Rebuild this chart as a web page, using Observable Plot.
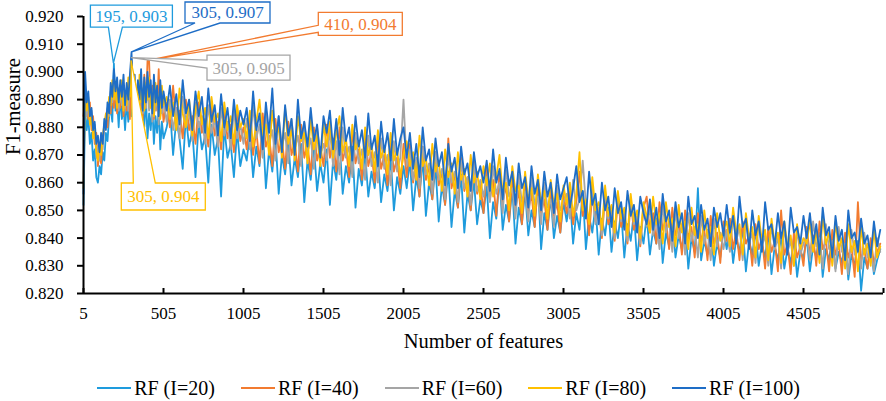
<!DOCTYPE html>
<html><head><meta charset="utf-8">
<script src="https://cdn.jsdelivr.net/npm/d3@7"></script>
<script src="https://cdn.jsdelivr.net/npm/@observablehq/plot@0.6"></script>
<style>
html,body{margin:0;padding:0;background:#fff;}
body{width:886px;height:401px;overflow:hidden;font-family:"Liberation Serif","Times New Roman",serif;}
svg{display:block;}
#legend{display:flex;justify-content:center;align-items:center;gap:26px;margin-top:18px;height:20px;padding-left:11px;font-size:20px;line-height:20px;color:#000;}
.item{display:flex;align-items:center;gap:3px;white-space:nowrap;}
.swatch{width:34px;height:2px;}
</style></head><body>
<div id="chart"></div><div id="legend"></div>
<script>
// Categories (number of features): every 10 up to 505, then every 20
const features = [...d3.range(5, 506, 10), ...d3.range(525, 5000, 20)];
const xTicks = [5, 505, 1005, 1505, 2005, 2505, 3005, 3505, 4005, 4505, 5005];
const yTicks = [0.82, 0.83, 0.84, 0.85, 0.86, 0.87, 0.88, 0.89, 0.90, 0.91, 0.92];
const seriesNames = ["RF (I=20)", "RF (I=40)", "RF (I=60)", "RF (I=80)", "RF (I=100)"];
const seriesColors = ["#1E9BDD", "#F27B30", "#A5A5A5", "#FFC000", "#1E6DC6"];

const rf20 = [
.852,.886,.879,.884,.874,.878,.868,.872,.862,.860,
.866,.863,.871,.868,.878,.875,.884,.887,.882,.903,
.886,.890,.880,.892,.883,.888,.879,.890,.882,.887,
.884,.891,.878,.886,.881,.889,.877,.886,.880,.891,
.876,.885,.879,.888,.874,.884,.878,.887,.872,.882,
.876,
.880,.887,.870,.883,.876,.865,.884,.873,.879,.862,.882,.872,.877,.860,.881,.870,.876,.855,.880,.869,.874,.862,.879,.866,.872,
.868,.878,.862,.873,.866,.880,.858,.872,.864,.876,.856,.870,.863,.875,.859,.869,.862,.874,.853,.868,.861,.873,.857,.867,.860,
.872,.852,.868,.861,.875,.856,.866,.860,.873,.851,.865,.859,.871,.855,.864,.858,.870,.853,.863,.857,.869,.850,.862,.856,.866,
.858,.868,.850,.862,.855,.869,.848,.860,.854,.866,.846,.859,.852,.864,.844,.857,.851,.863,.842,.856,.850,.861,.845,.854,.849,
.859,.840,.853,.847,.862,.843,.852,.846,.858,.838,.851,.845,.857,.841,.850,.844,.860,.836,.849,.843,.855,.840,.848,.842,.853,
.846,.855,.838,.849,.843,.857,.836,.848,.842,.852,.834,.847,.841,.851,.835,.846,.840,.850,.833,.845,.839,.849,.832,.844,.838,
.848,.834,.843,.838,.850,.831,.842,.837,.847,.833,.841,.836,.846,.829,.840,.835,.858,.832,.839,.834,.845,.830,.838,.833,.843,
.836,.845,.831,.840,.835,.844,.828,.839,.834,.843,.830,.838,.833,.842,.827,.837,.832,.841,.829,.836,.831,.840,.826,.835,.833,
.840,.828,.837,.833,.842,.826,.836,.832,.841,.829,.835,.831,.840,.825,.834,.830,.839,.821,.833,.829,.838,.827,.832,.836
];
const rf40 = [
.884,.891,.887,.883,.889,.879,.884,.874,.878,.866,
.871,.867,.876,.879,.883,.880,.889,.885,.893,.887,
.894,.885,.892,.887,.895,.884,.891,.886,.894,.883,
.897,.889,.893,.882,.896,.886,.891,.883,.899,.887,
.904,.904,.888,.895,.883,.893,.886,.901,.884,.891,
.882,
.889,.880,.895,.881,.886,.876,.890,.879,.884,.874,.889,.878,.883,.873,.888,.877,.882,.872,.887,.876,.881,.871,.886,.875,.880,
.872,.884,.870,.879,.867,.885,.873,.877,.866,.883,.871,.876,.865,.882,.870,.875,.864,.881,.869,.874,.863,.880,.868,.873,.866,
.881,.869,.876,.864,.880,.868,.873,.862,.879,.867,.872,.861,.878,.866,.871,.860,.877,.865,.870,.859,.876,.864,.869,.858,.874,
.862,.874,.860,.868,.855,.873,.861,.866,.854,.871,.859,.864,.852,.876,.858,.863,.851,.869,.857,.862,.850,.868,.856,.860,.849,
.865,.854,.861,.848,.864,.853,.859,.846,.862,.851,.857,.845,.861,.850,.856,.844,.860,.849,.854,.843,.858,.848,.853,.842,.856,
.849,.857,.845,.853,.864,.848,.852,.841,.856,.846,.850,.840,.855,.845,.849,.839,.854,.844,.848,.838,.853,.843,.847,.837,.851,
.855,.842,.849,.838,.853,.843,.847,.836,.851,.841,.845,.834,.850,.840,.844,.833,.849,.839,.843,.832,.848,.838,.842,.831,.846,
.839,.847,.836,.843,.832,.846,.838,.841,.830,.845,.836,.840,.829,.844,.835,.839,.828,.850,.834,.838,.827,.842,.833,.837,.830,
.844,.834,.841,.830,.846,.836,.839,.828,.843,.834,.838,.827,.842,.833,.837,.826,.853,.832,.836,.829,.840,.831,.835,.838
];
const rf60 = [
.880,.895,.884,.891,.882,.886,.877,.881,.869,.873,
.868,.876,.872,.880,.884,.887,.884,.893,.889,.896,
.890,.896,.886,.893,.888,.895,.887,.894,.886,.896,
.905,.888,.895,.884,.894,.888,.897,.885,.893,.887,
.895,.886,.894,.882,.892,.886,.893,.881,.891,.885,
.890,
.882,.890,.879,.887,.876,.891,.881,.886,.875,.889,.880,.884,.874,.888,.878,.883,.873,.887,.877,.882,.872,.886,.876,.881,.874,
.883,.872,.888,.876,.881,.869,.885,.874,.879,.868,.884,.873,.878,.867,.883,.872,.877,.866,.882,.871,.876,.865,.880,.870,.874,
.868,.879,.866,.875,.863,.880,.869,.873,.862,.878,.867,.872,.861,.877,.866,.871,.860,.876,.865,.870,.859,.875,.864,.869,.890,
.866,.872,.861,.869,.858,.873,.863,.867,.856,.871,.861,.865,.854,.870,.860,.864,.853,.868,.858,.862,.852,.867,.857,.861,.855,
.862,.853,.866,.856,.860,.849,.865,.855,.858,.847,.863,.853,.857,.846,.862,.852,.855,.845,.860,.851,.854,.844,.859,.850,.853,
.856,.847,.861,.850,.854,.868,.852,.846,.858,.845,.851,.841,.857,.847,.850,.840,.856,.846,.849,.839,.854,.845,.848,.838,.852,
.844,.851,.841,.847,.836,.852,.842,.846,.835,.850,.840,.845,.834,.849,.839,.844,.833,.848,.838,.843,.832,.847,.837,.842,.836,
.843,.835,.848,.839,.844,.832,.847,.838,.842,.831,.846,.837,.841,.830,.845,.836,.840,.829,.844,.835,.839,.830,.843,.834,.838,
.841,.832,.846,.837,.840,.829,.845,.836,.839,.828,.844,.835,.838,.827,.843,.834,.837,.829,.842,.833,.836,.828,.840,.835
];
const rf80 = [
.858,.893,.886,.890,.881,.884,.876,.880,.871,.868,
.874,.870,.877,.881,.885,.883,.891,.888,.897,.890,
.895,.887,.894,.890,.897,.886,.893,.888,.898,.891,
.904,.889,.896,.891,.885,.899,.889,.894,.886,.896,
.890,.898,.887,.893,.884,.896,.888,.892,.883,.895,
.888,
.891,.883,.889,.879,.894,.885,.880,.890,.877,.886,.893,.881,.887,.876,.891,.882,.885,.875,.889,.879,.884,.874,.888,.880,.883,
.876,.886,.873,.882,.890,.877,.881,.870,.886,.876,.880,.869,.887,.874,.879,.868,.884,.875,.878,.867,.883,.872,.877,.866,.881,
.873,.882,.869,.878,.884,.871,.876,.866,.881,.872,.875,.865,.880,.870,.874,.864,.879,.869,.873,.863,.878,.868,.872,.862,.870,
.875,.866,.871,.861,.877,.866,.869,.859,.874,.864,.868,.857,.872,.862,.867,.856,.871,.861,.865,.855,.870,.860,.864,.854,.866,
.859,.867,.855,.862,.870,.856,.860,.850,.866,.857,.859,.849,.864,.854,.858,.848,.863,.853,.857,.847,.861,.852,.856,.846,.859,
.852,.860,.848,.856,.871,.850,.854,.845,.862,.850,.853,.843,.859,.848,.852,.842,.857,.847,.851,.841,.856,.846,.850,.840,.853,
.848,.842,.855,.845,.849,.838,.853,.844,.847,.837,.852,.842,.846,.836,.851,.841,.845,.835,.850,.840,.844,.834,.849,.839,.843,
.846,.837,.851,.842,.845,.834,.849,.840,.844,.833,.848,.839,.843,.832,.847,.838,.842,.831,.846,.837,.841,.830,.845,.836,.840,
.838,.846,.835,.843,.831,.848,.838,.842,.830,.846,.836,.840,.829,.845,.835,.839,.828,.844,.834,.838,.830,.843,.833,.837
];
const rf100 = [
.856,.900,.889,.893,.884,.887,.879,.882,.874,.877,
.871,.878,.874,.883,.879,.889,.885,.896,.891,.901,
.893,.898,.889,.897,.891,.899,.888,.896,.890,.899,
.907,.892,.899,.887,.897,.890,.901,.886,.898,.889,
.900,.891,.897,.885,.899,.889,.895,.884,.897,.887,
.893,
.886,.895,.884,.892,.881,.897,.885,.890,.879,.893,.884,.891,.878,.894,.882,.888,.877,.892,.880,.887,.876,.890,.879,.886,.881,
.887,.875,.893,.879,.885,.872,.889,.878,.894,.874,.884,.871,.888,.877,.883,.870,.890,.876,.882,.873,.887,.875,.881,.869,.884,
.878,.886,.872,.883,.870,.887,.875,.880,.868,.884,.873,.879,.869,.885,.872,.877,.866,.882,.871,.878,.868,.883,.870,.876,.880,
.869,.878,.865,.874,.862,.880,.868,.872,.861,.876,.866,.871,.859,.874,.864,.869,.858,.873,.863,.867,.857,.871,.862,.866,.860,
.868,.857,.872,.860,.865,.854,.869,.859,.864,.852,.867,.858,.862,.851,.866,.856,.861,.850,.864,.855,.860,.849,.863,.854,.858,
.862,.851,.858,.866,.853,.857,.847,.864,.852,.856,.845,.860,.850,.855,.844,.858,.849,.853,.843,.857,.848,.852,.842,.855,.849,
.845,.854,.843,.851,.840,.856,.846,.850,.839,.853,.844,.849,.838,.855,.845,.848,.840,.852,.843,.847,.837,.851,.844,.849,.841,
.852,.842,.848,.838,.855,.844,.847,.836,.850,.841,.846,.835,.853,.843,.845,.837,.849,.840,.846,.834,.851,.842,.844,.838,.848,
.840,.849,.838,.845,.834,.851,.841,.844,.833,.848,.839,.843,.832,.850,.840,.842,.835,.847,.838,.841,.833,.846,.837,.843
];
const seriesValues = [rf20, rf40, rf60, rf80, rf100];

// Highlighted maxima (callouts)
const peaks = [
  {series: 0, x: 195, y: 0.903},
  {series: 4, x: 305, y: 0.907},
  {series: 1, x: 410, y: 0.904},
  {series: 2, x: 305, y: 0.905},
  {series: 3, x: 305, y: 0.904}
];
// Callout box layout relative to the pointed value (pixels)
const calloutLayout = [
  {dx: -23, dy: -58, w: 82, h: 22, side: "bottom", a: 18, b: 32},
  {dx: 54, dy: -50, w: 85, h: 21, side: "bottom", a: 10, b: 35},
  {dx: 170.5, dy: -48, w: 84, h: 23, side: "left", a: 13, b: 20},
  {dx: 76, dy: -2.5, w: 83, h: 25, side: "left", a: 5, b: 13},
  {dx: -9.7, dy: 122.7, w: 84, h: 27, side: "top", a: 12, b: 34}
];

const tables = seriesValues.map((vals, s) => vals.map((v, i) => ({x: features[i], y: v, series: seriesNames[s]})));

const chart = Plot.plot({
  width: 886, height: 360,
  marginLeft: 83, marginRight: 3, marginTop: 16, marginBottom: 67,
  style: {fontFamily: '"Liberation Serif", "Times New Roman", serif', fontSize: "17px", color: "#000", background: "#fff", overflow: "visible"},
  x: {type: "linear", domain: [5, 5005]},
  y: {domain: [0.82, 0.92]},
  marks: [
    ...tables.map((t, s) => Plot.line(t, {x: "x", y: "y", stroke: seriesColors[s], strokeWidth: 1.8})),
    Plot.axisX({ticks: xTicks, tickFormat: d => d === 5005 ? "" : String(d), tickSize: -5, tickPadding: 18, strokeWidth: 2, label: null}),
    Plot.axisY({ticks: yTicks, tickFormat: d => d.toFixed(3), tickSize: 6, tickPadding: 14, strokeWidth: 2, label: null}),
    Plot.ruleY([0.82], {stroke: "#000", strokeWidth: 2}),
    Plot.ruleX([5], {stroke: "#000", strokeWidth: 2}),
    Plot.text(["Number of features"], {text: d => d, frameAnchor: "bottom", dy: 54, lineAnchor: "bottom", fontSize: 20.5}),
    Plot.text(["F1-measure"], {text: d => d, frameAnchor: "left", dx: -70, rotate: -90, fontSize: 20.5})
  ]
});
document.getElementById("chart").appendChild(chart);

// Callouts
const sx = chart.scale("x"), sy = chart.scale("y");
const g = d3.select(chart).append("g");
peaks.forEach((p, i) => {
  const L0 = calloutLayout[i];
  const tx = sx.apply(p.x), ty = sy.apply(p.y);
  const L = tx + L0.dx, T = ty + L0.dy, R = L + L0.w, B = T + L0.h;
  let path;
  if (L0.side === "bottom") path = `M${L},${T}H${R}V${B}H${L + L0.b}L${tx},${ty}L${L + L0.a},${B}H${L}Z`;
  else if (L0.side === "top") path = `M${L},${T}H${L + L0.a}L${tx},${ty}L${L + L0.b},${T}H${R}V${B}H${L}Z`;
  else path = `M${L},${T}H${R}V${B}H${L}V${T + L0.b}L${tx},${ty}L${L},${T + L0.a}Z`;
  const c = seriesColors[p.series];
  g.append("path").attr("d", path).attr("fill", "#fff").attr("stroke", c).attr("stroke-width", 1.3);
  g.append("text").attr("x", L + L0.w / 2).attr("y", T + L0.h / 2).attr("dy", "0.35em")
    .attr("text-anchor", "middle").attr("fill", c)
    .attr("font-family", '"Liberation Serif", serif').attr("font-size", 17)
    .text(`${p.x}, ${p.y.toFixed(3)}`);
});

// Legend
const legend = d3.select("#legend");
seriesNames.forEach((n, i) => {
  const it = legend.append("div").attr("class", "item");
  it.append("div").attr("class", "swatch").style("background", seriesColors[i]);
  it.append("span").text(n);
});
</script></body></html>
